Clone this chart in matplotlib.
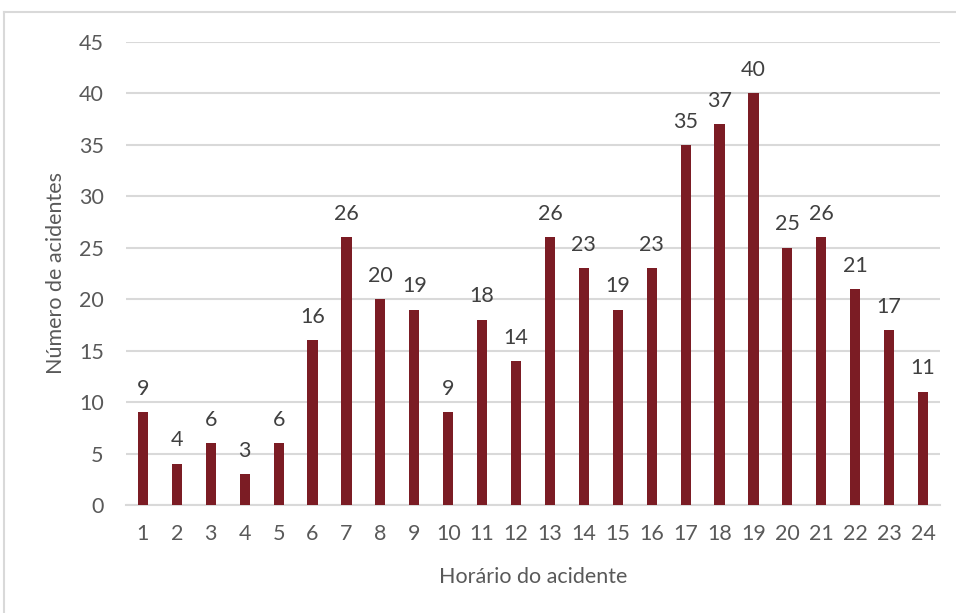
import matplotlib
matplotlib.use("Agg")
import matplotlib.pyplot as plt
from matplotlib.lines import Line2D

hours = list(range(1, 25))
accidents = [9, 4, 6, 3, 6, 16, 26, 20, 19, 9, 18, 14, 26, 23, 19, 23, 35, 37, 40, 25, 26, 21, 17, 11]
y_ticks = list(range(0, 50, 5))

bar_color = "#7B1C24"
text_color = "#595959"
grid_color = "#D9D9D9"
fs = 15.5

plt.rcParams["font.family"] = ["Lato", "DejaVu Sans"]

W, H = 956, 613
fig = plt.figure(figsize=(W / 100, H / 100), dpi=100)
ax = fig.add_axes([126 / W, 1 - 505 / H, (940 - 126) / W, (505 - 42) / H])

ax.bar(hours, accidents, width=0.3, color=bar_color, zorder=3)
for h, v in zip(hours, accidents):
    ax.annotate(str(v), (h, v), xytext=(0, 12.5), textcoords="offset points",
                ha="center", va="baseline", fontsize=fs, color="#404040")

ax.set_xlim(0.5, 24.5)
ax.set_ylim(0, 45)
ax.set_yticks(y_ticks)
ax.set_xticks(hours)
ax.yaxis.grid(True, color=grid_color, linewidth=1.5, zorder=0)
ax.tick_params(axis="both", length=0, labelsize=fs, labelcolor=text_color)
ax.tick_params(axis="y", pad=16)
ax.tick_params(axis="x", pad=14)
for s in ["top", "right", "left"]:
    ax.spines[s].set_visible(False)
ax.spines["bottom"].set_color(grid_color)
ax.spines["bottom"].set_linewidth(1.5)

ax.set_xlabel("Horário do acidente", fontsize=fs, color=text_color, labelpad=16)
ax.set_ylabel("Número de acidentes", fontsize=fs, color=text_color, labelpad=9)

# chart frame
fig.add_artist(Line2D([4 / W, 4 / W], [0, 1 - 12 / H], transform=fig.transFigure,
                      color=grid_color, linewidth=1.5))
fig.add_artist(Line2D([4 / W, 1], [1 - 12 / H, 1 - 12 / H], transform=fig.transFigure,
                      color=grid_color, linewidth=1.5))

fig.savefig("out.png", dpi=100)
